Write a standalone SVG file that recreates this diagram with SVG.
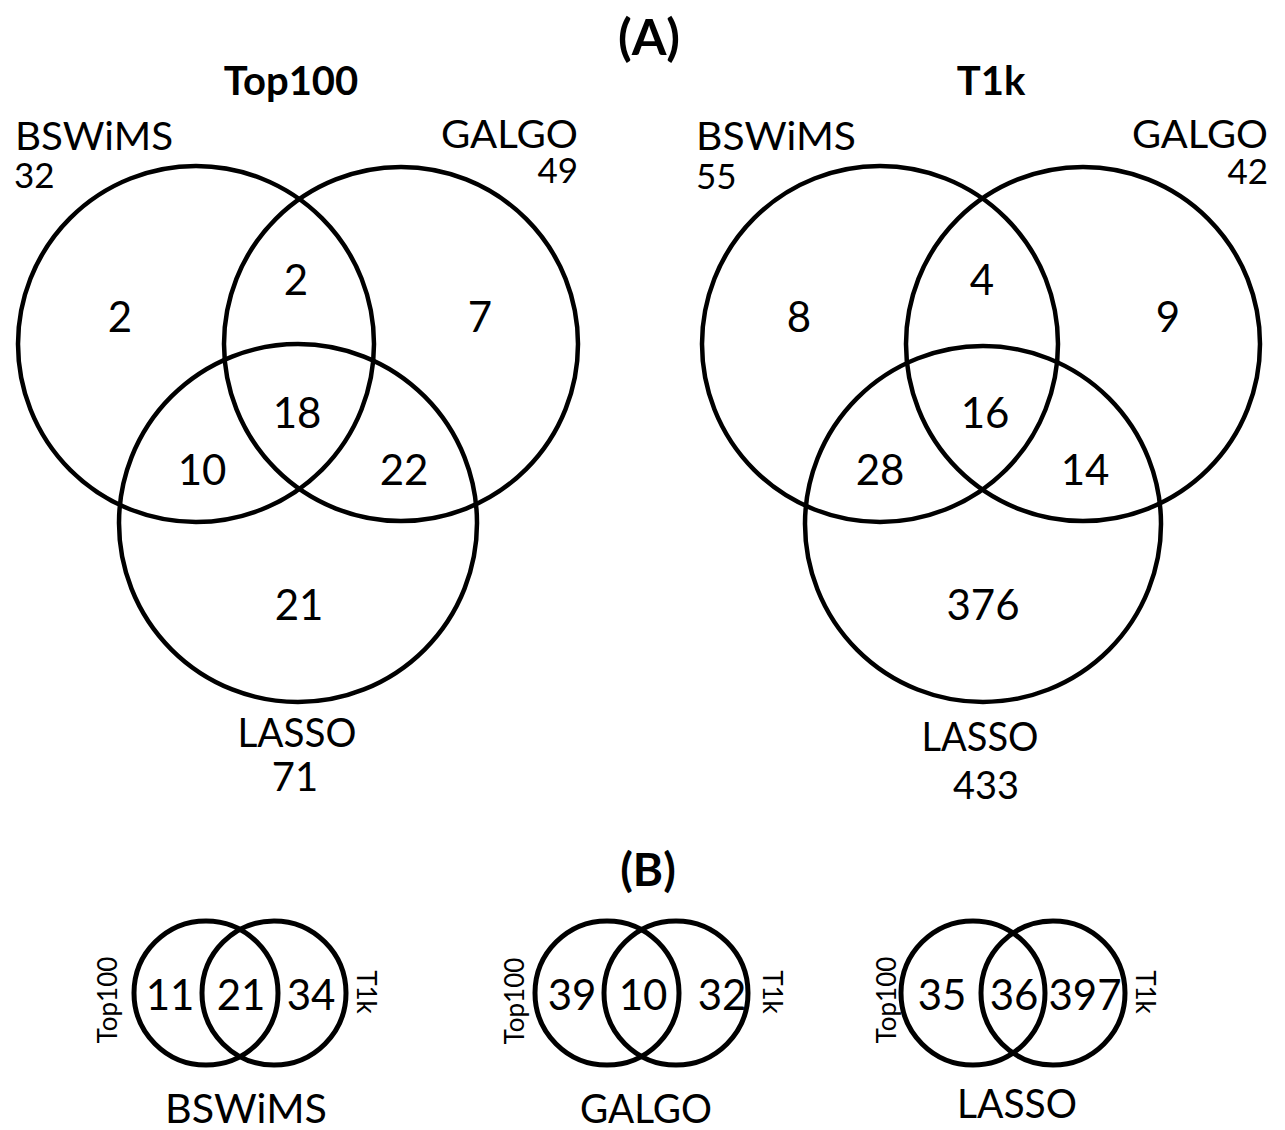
<svg xmlns="http://www.w3.org/2000/svg" width="1285" height="1130" viewBox="0 0 1285 1130">
  <style>
    text { font-family: Lato, "Liberation Sans", sans-serif; fill: #000; }
    .panel { font-weight: bold; font-size: 50px; text-anchor: middle; }
    .title { font-weight: bold; font-size: 40px; text-anchor: middle; }
    .lbl { font-size: 38px; }
    .lasso { font-size: 41px; }
    .cnt { font-size: 35px; }
    .num { font-size: 42px; text-anchor: middle; }
    .mid { text-anchor: middle; }
    .end { text-anchor: end; }
    .side { font-size: 26px; text-anchor: middle; }
    .set { fill: none; stroke: #000; stroke-width: 4.5; }
    .set2 { fill: none; stroke: #000; stroke-width: 5; }
  </style>
  <rect width="1285" height="1130" fill="#fff"/>

  <!-- panel headings -->
  <text class="panel" x="649" y="55">(A)</text>
  <text class="panel" x="648" y="886" style="font-size:46px">(B)</text>

  <!-- three-set diagram: Top100 -->
  <g id="venn-top100">
    <text class="title" x="291" y="95">Top100</text>
    <circle class="set" cx="196" cy="344" r="178"/>
    <circle class="set" cx="401" cy="344" r="177"/>
    <circle class="set" cx="298" cy="523" r="179"/>
    <text class="lbl" x="15" y="150" textLength="158" lengthAdjust="spacingAndGlyphs">BSWiMS</text>
    <text class="cnt" x="14" y="188">32</text>
    <text class="lbl end" x="578" y="148" textLength="137" lengthAdjust="spacingAndGlyphs">GALGO</text>
    <text class="cnt end" x="578" y="183">49</text>
    <text class="num" x="120" y="332">2</text>
    <text class="num" x="296" y="295">2</text>
    <text class="num" x="480" y="332">7</text>
    <text class="num" x="297" y="428">18</text>
    <text class="num" x="202" y="485">10</text>
    <text class="num" x="404" y="485">22</text>
    <text class="num" x="299" y="620">21</text>
    <text class="lasso mid" x="297" y="747" textLength="119" lengthAdjust="spacingAndGlyphs">LASSO</text>
    <text class="cnt mid" x="295" y="791" style="font-size:40px">71</text>
  </g>

  <!-- three-set diagram: T1k -->
  <g id="venn-t1k">
    <text class="title" x="991" y="95">T1k</text>
    <circle class="set" cx="880" cy="344" r="178"/>
    <circle class="set" cx="1083" cy="344" r="177"/>
    <circle class="set" cx="983" cy="524" r="178"/>
    <text class="lbl" x="696" y="150" textLength="160" lengthAdjust="spacingAndGlyphs">BSWiMS</text>
    <text class="cnt" x="696" y="189">55</text>
    <text class="lbl end" x="1268" y="148" textLength="136" lengthAdjust="spacingAndGlyphs">GALGO</text>
    <text class="cnt end" x="1268" y="184">42</text>
    <text class="num" x="799" y="332">8</text>
    <text class="num" x="982" y="295">4</text>
    <text class="num" x="1168" y="332">9</text>
    <text class="num" x="985" y="428">16</text>
    <text class="num" x="880" y="485">28</text>
    <text class="num" x="1085" y="485">14</text>
    <text class="num" x="983" y="620">376</text>
    <text class="lasso mid" x="980" y="751" textLength="117" lengthAdjust="spacingAndGlyphs">LASSO</text>
    <text class="cnt mid" x="986" y="799" style="font-size:38px">433</text>
  </g>

  <!-- two-set diagrams: Top100 vs T1k per method -->
  <g id="pair-bswims">
    <circle class="set2" cx="206" cy="993" r="72"/>
    <circle class="set2" cx="274" cy="993" r="72"/>
    <text class="num" x="170" y="1010">11</text>
    <text class="num" x="241" y="1010">21</text>
    <text class="num" x="311" y="1010">34</text>
    <text class="side" transform="translate(117,1000) rotate(-90)">Top100</text>
    <text class="side" transform="translate(357,992) rotate(90)">T1k</text>
    <text class="lbl mid" x="246" y="1123" textLength="162" lengthAdjust="spacingAndGlyphs" style="font-size:40px">BSWiMS</text>
  </g>

  <g id="pair-galgo">
    <circle class="set2" cx="607" cy="993" r="72"/>
    <circle class="set2" cx="676" cy="993" r="72"/>
    <text class="num" x="572" y="1010">39</text>
    <text class="num" x="643" y="1010">10</text>
    <text class="num" x="722" y="1010">32</text>
    <text class="side" transform="translate(524,1001) rotate(-90)">Top100</text>
    <text class="side" transform="translate(763,992) rotate(90)">T1k</text>
    <text class="lbl mid" x="646" y="1123" textLength="132" lengthAdjust="spacingAndGlyphs" style="font-size:40px">GALGO</text>
  </g>

  <g id="pair-lasso">
    <circle class="set2" cx="973" cy="993" r="72"/>
    <circle class="set2" cx="1053" cy="993" r="72"/>
    <text class="num" x="942" y="1010">35</text>
    <text class="num" x="1014" y="1010">36</text>
    <text class="num" x="1085" y="1010">397</text>
    <text class="side" transform="translate(896,1000) rotate(-90)">Top100</text>
    <text class="side" transform="translate(1136,992) rotate(90)">T1k</text>
    <text class="lbl mid" x="1017" y="1118" textLength="120" lengthAdjust="spacingAndGlyphs" style="font-size:40px">LASSO</text>
  </g>

  <!-- no connectors in this figure -->
  <g id="connectors"/>
</svg>
